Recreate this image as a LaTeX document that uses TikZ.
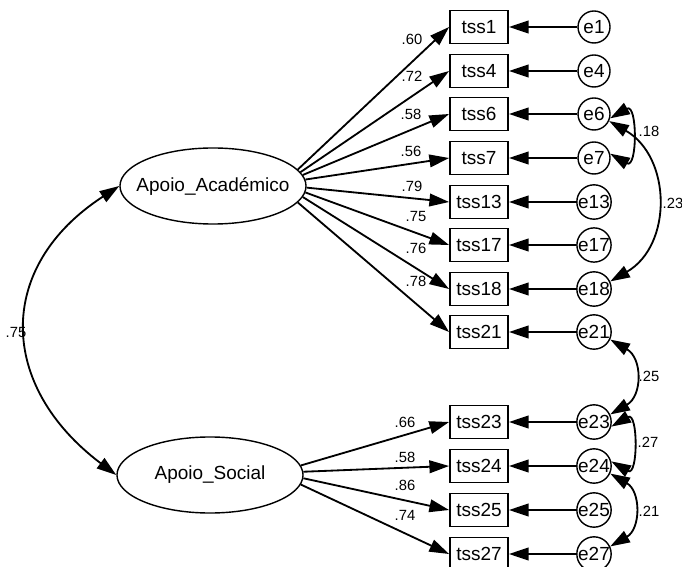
\documentclass[tikz,border=0pt]{standalone}
\usepackage{fontspec}
\setmainfont{Liberation Sans}
\usetikzlibrary{arrows.meta,shapes.geometric}
\tikzset{obs/.style={draw,rectangle,line width=1.3pt,minimum width=1.45cm,minimum height=0.825cm,inner sep=0pt,font=\fontsize{13.5}{15}\selectfont},
         err/.style={draw,circle,line width=1pt,minimum size=0.8cm,inner sep=0pt,font=\fontsize{13.5}{15}\selectfont},
         lat/.style={draw,ellipse,line width=1pt,minimum width=4.65cm,minimum height=1.9cm,inner xsep=-9pt,font=\fontsize{13.5}{15}\selectfont},
         lbl/.style={inner sep=0pt,font=\fontsize{10.5}{12}\selectfont},
         regr/.style={draw,line width=1.3pt,-{Triangle[length=14pt,width=9pt]}},
         cov/.style={draw,line width=1.3pt,{Triangle[length=14pt,width=9pt]}-{Triangle[length=14pt,width=9pt]}}}

\begin{document}
\begin{tikzpicture}[x=0.025cm,y=0.025cm]
\useasboundingbox (0,0) rectangle (682,566);
% latent factors
\node[lat] (aa) at (213,380) {Apoio\_Académico};
\node[lat] (as) at (210,91) {Apoio\_Social};
% items and their errors
\foreach \n/\y in {1/539,4/495,6/452,7/408,13/364,17/321,18/277,21/234,23/144,24/100,25/56,27/12}{
  \node[obs] (tss\n) at (479,\y) {tss\n};
  \node[err] (e\n) at (594,\y) {e\n};
  \draw[regr] (e\n) -- (tss\n);
}
% loadings
\foreach \n/\ang/\v/\lx/\ly in {1/11/.60/412/527,4/9/.72/412/490,6/7/.58/411/452,7/4/.56/411/415,
    13/-1/.79/412/380,17/-4/.75/416/350,18/-7/.76/416/318,21/-11/.78/416/285}{
  \draw[regr] (aa.\ang) -- (tss\n.west);
  \node[lbl] (l\n) at (\lx,\ly) {\v};
}
\foreach \n/\ang/\v/\lx/\ly in {23/6.5/.66/405/144,24/2/.58/405/109,25/-2/.86/405/81,27/-6.5/.74/405/51}{
  \draw[regr] (as.\ang) -- (tss\n.west);
  \node[lbl] (l\n) at (\lx,\ly) {\v};
}
% covariances
\draw[cov] (aa.west) to[out=213,in=143,looseness=1.31] (as.west);
\node[lbl] (c1) at (16,234) {.75};
\draw[cov] (e6.-15) to[out=30,in=-30,looseness=2.3] (e7.15);
\node[lbl] (c2) at (649,435) {.18};
\draw[cov] (e6.-25) to[out=-30,in=30,looseness=1.15] (e18.25);
\node[lbl] (c3) at (673,363) {.23};
\draw[cov] (e21.-25) to[out=-30,in=30,looseness=1.28] (e23.25);
\node[lbl] (c4) at (649,190) {.25};
\draw[cov] (e23.-15) to[out=30,in=-30,looseness=2.3] (e24.15);
\node[lbl] (c5) at (648,124) {.27};
\draw[cov] (e24.-25) to[out=-30,in=30,looseness=1.25] (e27.25);
\node[lbl] (c6) at (649,55) {.21};
\end{tikzpicture}
\end{document}
